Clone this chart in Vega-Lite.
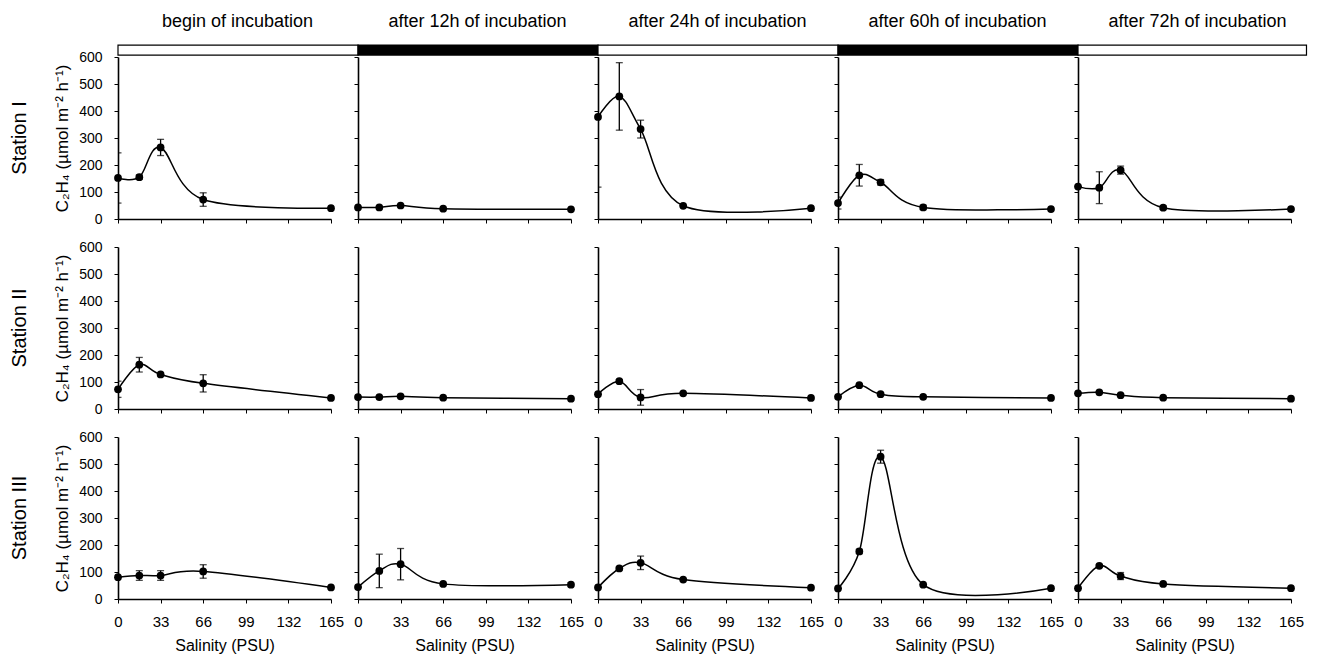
{
  "$schema": "https://vega.github.io/schema/vega-lite/v6.json",
  "padding": {"left": 9, "top": 12, "right": 5, "bottom": 5},
  "background": "white",
  "data": {"values": [
    {"st":"I","t":"b","s":0,"v":152,"e":93},{"st":"I","t":"b","s":16.5,"v":155,"e":8},{"st":"I","t":"b","s":33,"v":265,"e":30},{"st":"I","t":"b","s":66,"v":72,"e":25},{"st":"I","t":"b","s":165,"v":40,"e":0},
    {"st":"I","t":"12","s":0,"v":43,"e":0},{"st":"I","t":"12","s":16.5,"v":43,"e":0},{"st":"I","t":"12","s":33,"v":50,"e":0},{"st":"I","t":"12","s":66,"v":38,"e":0},{"st":"I","t":"12","s":165,"v":36,"e":0},
    {"st":"I","t":"24","s":0,"v":378,"e":260},{"st":"I","t":"24","s":16.5,"v":454,"e":125},{"st":"I","t":"24","s":33,"v":333,"e":33},{"st":"I","t":"24","s":66,"v":49,"e":0},{"st":"I","t":"24","s":165,"v":40,"e":0},
    {"st":"I","t":"60","s":0,"v":59,"e":22},{"st":"I","t":"60","s":16.5,"v":162,"e":40},{"st":"I","t":"60","s":33,"v":136,"e":10},{"st":"I","t":"60","s":66,"v":43,"e":8},{"st":"I","t":"60","s":165,"v":37,"e":0},
    {"st":"I","t":"72","s":0,"v":120,"e":0},{"st":"I","t":"72","s":16.5,"v":116,"e":59},{"st":"I","t":"72","s":33,"v":181,"e":15},{"st":"I","t":"72","s":66,"v":42,"e":6},{"st":"I","t":"72","s":165,"v":37,"e":0},
    {"st":"II","t":"b","s":0,"v":73,"e":30},{"st":"II","t":"b","s":16.5,"v":164,"e":27},{"st":"II","t":"b","s":33,"v":128,"e":0},{"st":"II","t":"b","s":66,"v":95,"e":32},{"st":"II","t":"b","s":165,"v":41,"e":0},
    {"st":"II","t":"12","s":0,"v":44,"e":0},{"st":"II","t":"12","s":16.5,"v":44,"e":0},{"st":"II","t":"12","s":33,"v":47,"e":0},{"st":"II","t":"12","s":66,"v":42,"e":0},{"st":"II","t":"12","s":165,"v":38,"e":0},
    {"st":"II","t":"24","s":0,"v":55,"e":0},{"st":"II","t":"24","s":16.5,"v":103,"e":6},{"st":"II","t":"24","s":33,"v":43,"e":29},{"st":"II","t":"24","s":66,"v":58,"e":0},{"st":"II","t":"24","s":165,"v":41,"e":0},
    {"st":"II","t":"60","s":0,"v":45,"e":0},{"st":"II","t":"60","s":16.5,"v":88,"e":0},{"st":"II","t":"60","s":33,"v":55,"e":0},{"st":"II","t":"60","s":66,"v":45,"e":0},{"st":"II","t":"60","s":165,"v":41,"e":0},
    {"st":"II","t":"72","s":0,"v":58,"e":0},{"st":"II","t":"72","s":16.5,"v":62,"e":0},{"st":"II","t":"72","s":33,"v":51,"e":0},{"st":"II","t":"72","s":66,"v":42,"e":0},{"st":"II","t":"72","s":165,"v":38,"e":0},
    {"st":"III","t":"b","s":0,"v":81,"e":0},{"st":"III","t":"b","s":16.5,"v":87,"e":18},{"st":"III","t":"b","s":33,"v":87,"e":18},{"st":"III","t":"b","s":66,"v":102,"e":25},{"st":"III","t":"b","s":165,"v":43,"e":0},
    {"st":"III","t":"12","s":0,"v":44,"e":0},{"st":"III","t":"12","s":16.5,"v":104,"e":62},{"st":"III","t":"12","s":33,"v":129,"e":58},{"st":"III","t":"12","s":66,"v":56,"e":0},{"st":"III","t":"12","s":165,"v":53,"e":7},
    {"st":"III","t":"24","s":0,"v":43,"e":0},{"st":"III","t":"24","s":16.5,"v":113,"e":5},{"st":"III","t":"24","s":33,"v":134,"e":25},{"st":"III","t":"24","s":66,"v":72,"e":0},{"st":"III","t":"24","s":165,"v":42,"e":0},
    {"st":"III","t":"60","s":0,"v":39,"e":0},{"st":"III","t":"60","s":16.5,"v":176,"e":8},{"st":"III","t":"60","s":33,"v":527,"e":24},{"st":"III","t":"60","s":66,"v":53,"e":0},{"st":"III","t":"60","s":165,"v":40,"e":0},
    {"st":"III","t":"72","s":0,"v":40,"e":0},{"st":"III","t":"72","s":16.5,"v":123,"e":5},{"st":"III","t":"72","s":33,"v":85,"e":13},{"st":"III","t":"72","s":66,"v":56,"e":0},{"st":"III","t":"72","s":165,"v":40,"e":0}
  ]},
  "columns": 5,
  "bounds": "flush",
  "spacing": {"row": 28, "column": 27},
  "concat": [
    {"width":213,"height":162,
     "title":{"text":"begin of incubation","dx":13},
     "transform":[{"filter":"datum.st==='I' && datum.t==='b'"}],
     "encoding":{"x":{"field":"s","type":"quantitative","scale":{"domain":[0,165]},"axis":{"values":[0,33,66,99,132,165],"labels":false,"title":null}},
                 "y":{"field":"v","type":"quantitative","scale":{"domain":[0,600]},"axis":{"values":[0,100,200,300,400,500,600],"title":"C₂H₄ (µmol m⁻² h⁻¹)"}}},
     "layer":[
      {"mark":{"type":"line","interpolate":"cardinal","color":"black","strokeWidth":1.5}},
      {"mark":{"type":"errorbar","color":"black","clip":true,"thickness":1.3,"ticks":{"size":7}},"encoding":{"yError":{"field":"e"}}},
      {"mark":{"type":"point","filled":true,"color":"black","opacity":1,"size":60}},
      {"transform":[{"filter":"datum.s===0"}],"mark":{"type":"rect","fill":"white","stroke":"black","strokeWidth":1.2},"encoding":{"x":{"datum":0},"x2":{"datum":186},"y":{"datum":607},"y2":{"datum":644}}},
      {"transform":[{"filter":"datum.s===0"}],"mark":{"type":"text","angle":270,"fontSize":20,"color":"black","align":"center","baseline":"middle"},"encoding":{"x":{"datum":-76},"y":{"datum":300},"text":{"value":"Station I"}}}
     ]},
    {"width":213,"height":162,
     "title":{"text":"after 12h of incubation","dx":13},
     "transform":[{"filter":"datum.st==='I' && datum.t==='12'"}],
     "encoding":{"x":{"field":"s","type":"quantitative","scale":{"domain":[0,165]},"axis":{"values":[0,33,66,99,132,165],"labels":false,"title":null}},
                 "y":{"field":"v","type":"quantitative","scale":{"domain":[0,600]},"axis":{"values":[0,100,200,300,400,500,600],"labels":false,"title":null}}},
     "layer":[
      {"mark":{"type":"line","interpolate":"cardinal","color":"black","strokeWidth":1.5}},
      {"mark":{"type":"errorbar","color":"black","clip":true,"thickness":1.3,"ticks":{"size":7}},"encoding":{"yError":{"field":"e"}}},
      {"mark":{"type":"point","filled":true,"color":"black","opacity":1,"size":60}},
      {"transform":[{"filter":"datum.s===0"}],"mark":{"type":"rect","fill":"black","stroke":"black","strokeWidth":1.2},"encoding":{"x":{"datum":0},"x2":{"datum":186},"y":{"datum":607},"y2":{"datum":644}}}
     ]},
    {"width":213,"height":162,
     "title":{"text":"after 24h of incubation","dx":13},
     "transform":[{"filter":"datum.st==='I' && datum.t==='24'"}],
     "encoding":{"x":{"field":"s","type":"quantitative","scale":{"domain":[0,165]},"axis":{"values":[0,33,66,99,132,165],"labels":false,"title":null}},
                 "y":{"field":"v","type":"quantitative","scale":{"domain":[0,600]},"axis":{"values":[0,100,200,300,400,500,600],"labels":false,"title":null}}},
     "layer":[
      {"mark":{"type":"line","interpolate":"cardinal","color":"black","strokeWidth":1.5}},
      {"mark":{"type":"errorbar","color":"black","clip":true,"thickness":1.3,"ticks":{"size":7}},"encoding":{"yError":{"field":"e"}}},
      {"mark":{"type":"point","filled":true,"color":"black","opacity":1,"size":60}},
      {"transform":[{"filter":"datum.s===0"}],"mark":{"type":"rect","fill":"white","stroke":"black","strokeWidth":1.2},"encoding":{"x":{"datum":0},"x2":{"datum":186},"y":{"datum":607},"y2":{"datum":644}}}
     ]},
    {"width":213,"height":162,
     "title":{"text":"after 60h of incubation","dx":13},
     "transform":[{"filter":"datum.st==='I' && datum.t==='60'"}],
     "encoding":{"x":{"field":"s","type":"quantitative","scale":{"domain":[0,165]},"axis":{"values":[0,33,66,99,132,165],"labels":false,"title":null}},
                 "y":{"field":"v","type":"quantitative","scale":{"domain":[0,600]},"axis":{"values":[0,100,200,300,400,500,600],"labels":false,"title":null}}},
     "layer":[
      {"mark":{"type":"line","interpolate":"cardinal","color":"black","strokeWidth":1.5}},
      {"mark":{"type":"errorbar","color":"black","clip":true,"thickness":1.3,"ticks":{"size":7}},"encoding":{"yError":{"field":"e"}}},
      {"mark":{"type":"point","filled":true,"color":"black","opacity":1,"size":60}},
      {"transform":[{"filter":"datum.s===0"}],"mark":{"type":"rect","fill":"black","stroke":"black","strokeWidth":1.2},"encoding":{"x":{"datum":0},"x2":{"datum":186},"y":{"datum":607},"y2":{"datum":644}}}
     ]},
    {"width":213,"height":162,
     "title":{"text":"after 72h of incubation","dx":13},
     "transform":[{"filter":"datum.st==='I' && datum.t==='72'"}],
     "encoding":{"x":{"field":"s","type":"quantitative","scale":{"domain":[0,165]},"axis":{"values":[0,33,66,99,132,165],"labels":false,"title":null}},
                 "y":{"field":"v","type":"quantitative","scale":{"domain":[0,600]},"axis":{"values":[0,100,200,300,400,500,600],"labels":false,"title":null}}},
     "layer":[
      {"mark":{"type":"line","interpolate":"cardinal","color":"black","strokeWidth":1.5}},
      {"mark":{"type":"errorbar","color":"black","clip":true,"thickness":1.3,"ticks":{"size":7}},"encoding":{"yError":{"field":"e"}}},
      {"mark":{"type":"point","filled":true,"color":"black","opacity":1,"size":60}},
      {"transform":[{"filter":"datum.s===0"}],"mark":{"type":"rect","fill":"white","stroke":"black","strokeWidth":1.2},"encoding":{"x":{"datum":0},"x2":{"datum":177},"y":{"datum":607},"y2":{"datum":644}}}
     ]},

    {"width":213,"height":162,
     "transform":[{"filter":"datum.st==='II' && datum.t==='b'"}],
     "encoding":{"x":{"field":"s","type":"quantitative","scale":{"domain":[0,165]},"axis":{"values":[0,33,66,99,132,165],"labels":false,"title":null}},
                 "y":{"field":"v","type":"quantitative","scale":{"domain":[0,600]},"axis":{"values":[0,100,200,300,400,500,600],"title":"C₂H₄ (µmol m⁻² h⁻¹)"}}},
     "layer":[
      {"mark":{"type":"line","interpolate":"cardinal","color":"black","strokeWidth":1.5}},
      {"mark":{"type":"errorbar","color":"black","clip":true,"thickness":1.3,"ticks":{"size":7}},"encoding":{"yError":{"field":"e"}}},
      {"mark":{"type":"point","filled":true,"color":"black","opacity":1,"size":60}},
      {"transform":[{"filter":"datum.s===0"}],"mark":{"type":"text","angle":270,"fontSize":20,"color":"black","align":"center","baseline":"middle"},"encoding":{"x":{"datum":-76},"y":{"datum":300},"text":{"value":"Station II"}}}
     ]},
    {"width":213,"height":162,
     "transform":[{"filter":"datum.st==='II' && datum.t==='12'"}],
     "encoding":{"x":{"field":"s","type":"quantitative","scale":{"domain":[0,165]},"axis":{"values":[0,33,66,99,132,165],"labels":false,"title":null}},
                 "y":{"field":"v","type":"quantitative","scale":{"domain":[0,600]},"axis":{"values":[0,100,200,300,400,500,600],"labels":false,"title":null}}},
     "layer":[
      {"mark":{"type":"line","interpolate":"cardinal","color":"black","strokeWidth":1.5}},
      {"mark":{"type":"errorbar","color":"black","clip":true,"thickness":1.3,"ticks":{"size":7}},"encoding":{"yError":{"field":"e"}}},
      {"mark":{"type":"point","filled":true,"color":"black","opacity":1,"size":60}}
     ]},
    {"width":213,"height":162,
     "transform":[{"filter":"datum.st==='II' && datum.t==='24'"}],
     "encoding":{"x":{"field":"s","type":"quantitative","scale":{"domain":[0,165]},"axis":{"values":[0,33,66,99,132,165],"labels":false,"title":null}},
                 "y":{"field":"v","type":"quantitative","scale":{"domain":[0,600]},"axis":{"values":[0,100,200,300,400,500,600],"labels":false,"title":null}}},
     "layer":[
      {"mark":{"type":"line","interpolate":"cardinal","color":"black","strokeWidth":1.5}},
      {"mark":{"type":"errorbar","color":"black","clip":true,"thickness":1.3,"ticks":{"size":7}},"encoding":{"yError":{"field":"e"}}},
      {"mark":{"type":"point","filled":true,"color":"black","opacity":1,"size":60}}
     ]},
    {"width":213,"height":162,
     "transform":[{"filter":"datum.st==='II' && datum.t==='60'"}],
     "encoding":{"x":{"field":"s","type":"quantitative","scale":{"domain":[0,165]},"axis":{"values":[0,33,66,99,132,165],"labels":false,"title":null}},
                 "y":{"field":"v","type":"quantitative","scale":{"domain":[0,600]},"axis":{"values":[0,100,200,300,400,500,600],"labels":false,"title":null}}},
     "layer":[
      {"mark":{"type":"line","interpolate":"cardinal","color":"black","strokeWidth":1.5}},
      {"mark":{"type":"errorbar","color":"black","clip":true,"thickness":1.3,"ticks":{"size":7}},"encoding":{"yError":{"field":"e"}}},
      {"mark":{"type":"point","filled":true,"color":"black","opacity":1,"size":60}}
     ]},
    {"width":213,"height":162,
     "transform":[{"filter":"datum.st==='II' && datum.t==='72'"}],
     "encoding":{"x":{"field":"s","type":"quantitative","scale":{"domain":[0,165]},"axis":{"values":[0,33,66,99,132,165],"labels":false,"title":null}},
                 "y":{"field":"v","type":"quantitative","scale":{"domain":[0,600]},"axis":{"values":[0,100,200,300,400,500,600],"labels":false,"title":null}}},
     "layer":[
      {"mark":{"type":"line","interpolate":"cardinal","color":"black","strokeWidth":1.5}},
      {"mark":{"type":"errorbar","color":"black","clip":true,"thickness":1.3,"ticks":{"size":7}},"encoding":{"yError":{"field":"e"}}},
      {"mark":{"type":"point","filled":true,"color":"black","opacity":1,"size":60}}
     ]},

    {"width":213,"height":162,
     "transform":[{"filter":"datum.st==='III' && datum.t==='b'"}],
     "encoding":{"x":{"field":"s","type":"quantitative","scale":{"domain":[0,165]},"axis":{"values":[0,33,66,99,132,165],"title":"Salinity (PSU)"}},
                 "y":{"field":"v","type":"quantitative","scale":{"domain":[0,600]},"axis":{"values":[0,100,200,300,400,500,600],"title":"C₂H₄ (µmol m⁻² h⁻¹)"}}},
     "layer":[
      {"mark":{"type":"line","interpolate":"cardinal","color":"black","strokeWidth":1.5}},
      {"mark":{"type":"errorbar","color":"black","clip":true,"thickness":1.3,"ticks":{"size":7}},"encoding":{"yError":{"field":"e"}}},
      {"mark":{"type":"point","filled":true,"color":"black","opacity":1,"size":60}},
      {"transform":[{"filter":"datum.s===0"}],"mark":{"type":"text","angle":270,"fontSize":20,"color":"black","align":"center","baseline":"middle"},"encoding":{"x":{"datum":-76},"y":{"datum":300},"text":{"value":"Station III"}}}
     ]},
    {"width":213,"height":162,
     "transform":[{"filter":"datum.st==='III' && datum.t==='12'"}],
     "encoding":{"x":{"field":"s","type":"quantitative","scale":{"domain":[0,165]},"axis":{"values":[0,33,66,99,132,165],"title":"Salinity (PSU)"}},
                 "y":{"field":"v","type":"quantitative","scale":{"domain":[0,600]},"axis":{"values":[0,100,200,300,400,500,600],"labels":false,"title":null}}},
     "layer":[
      {"mark":{"type":"line","interpolate":"cardinal","color":"black","strokeWidth":1.5}},
      {"mark":{"type":"errorbar","color":"black","clip":true,"thickness":1.3,"ticks":{"size":7}},"encoding":{"yError":{"field":"e"}}},
      {"mark":{"type":"point","filled":true,"color":"black","opacity":1,"size":60}}
     ]},
    {"width":213,"height":162,
     "transform":[{"filter":"datum.st==='III' && datum.t==='24'"}],
     "encoding":{"x":{"field":"s","type":"quantitative","scale":{"domain":[0,165]},"axis":{"values":[0,33,66,99,132,165],"title":"Salinity (PSU)"}},
                 "y":{"field":"v","type":"quantitative","scale":{"domain":[0,600]},"axis":{"values":[0,100,200,300,400,500,600],"labels":false,"title":null}}},
     "layer":[
      {"mark":{"type":"line","interpolate":"cardinal","color":"black","strokeWidth":1.5}},
      {"mark":{"type":"errorbar","color":"black","clip":true,"thickness":1.3,"ticks":{"size":7}},"encoding":{"yError":{"field":"e"}}},
      {"mark":{"type":"point","filled":true,"color":"black","opacity":1,"size":60}}
     ]},
    {"width":213,"height":162,
     "transform":[{"filter":"datum.st==='III' && datum.t==='60'"}],
     "encoding":{"x":{"field":"s","type":"quantitative","scale":{"domain":[0,165]},"axis":{"values":[0,33,66,99,132,165],"title":"Salinity (PSU)"}},
                 "y":{"field":"v","type":"quantitative","scale":{"domain":[0,600]},"axis":{"values":[0,100,200,300,400,500,600],"labels":false,"title":null}}},
     "layer":[
      {"mark":{"type":"line","interpolate":"cardinal","color":"black","strokeWidth":1.5}},
      {"mark":{"type":"errorbar","color":"black","clip":true,"thickness":1.3,"ticks":{"size":7}},"encoding":{"yError":{"field":"e"}}},
      {"mark":{"type":"point","filled":true,"color":"black","opacity":1,"size":60}}
     ]},
    {"width":213,"height":162,
     "transform":[{"filter":"datum.st==='III' && datum.t==='72'"}],
     "encoding":{"x":{"field":"s","type":"quantitative","scale":{"domain":[0,165]},"axis":{"values":[0,33,66,99,132,165],"title":"Salinity (PSU)"}},
                 "y":{"field":"v","type":"quantitative","scale":{"domain":[0,600]},"axis":{"values":[0,100,200,300,400,500,600],"labels":false,"title":null}}},
     "layer":[
      {"mark":{"type":"line","interpolate":"cardinal","color":"black","strokeWidth":1.5}},
      {"mark":{"type":"errorbar","color":"black","clip":true,"thickness":1.3,"ticks":{"size":7}},"encoding":{"yError":{"field":"e"}}},
      {"mark":{"type":"point","filled":true,"color":"black","opacity":1,"size":60}}
     ]}
  ],
  "config": {
    "font": "Liberation Sans",
    "view": {"stroke": null},
    "title": {"fontSize": 18, "fontWeight": "normal", "color": "black", "anchor": "middle", "frame": "group", "offset": 14},
    "text": {"font": "Liberation Sans"},
    "axis": {"grid": false, "domainColor": "black", "domainWidth": 1.6, "tickColor": "black", "tickWidth": 1, "tickSize": 4,
             "labelColor": "black", "titleColor": "black", "labelFlush": false, "titleFontWeight": "normal", "labelOverlap": false},
    "axisX": {"labelFontSize": 15, "labelPadding": 11, "titleFontSize": 16, "titlePadding": 8},
    "axisY": {"labelFontSize": 14, "labelPadding": 12, "titleFontSize": 17, "titlePadding": 7}
  }
}
